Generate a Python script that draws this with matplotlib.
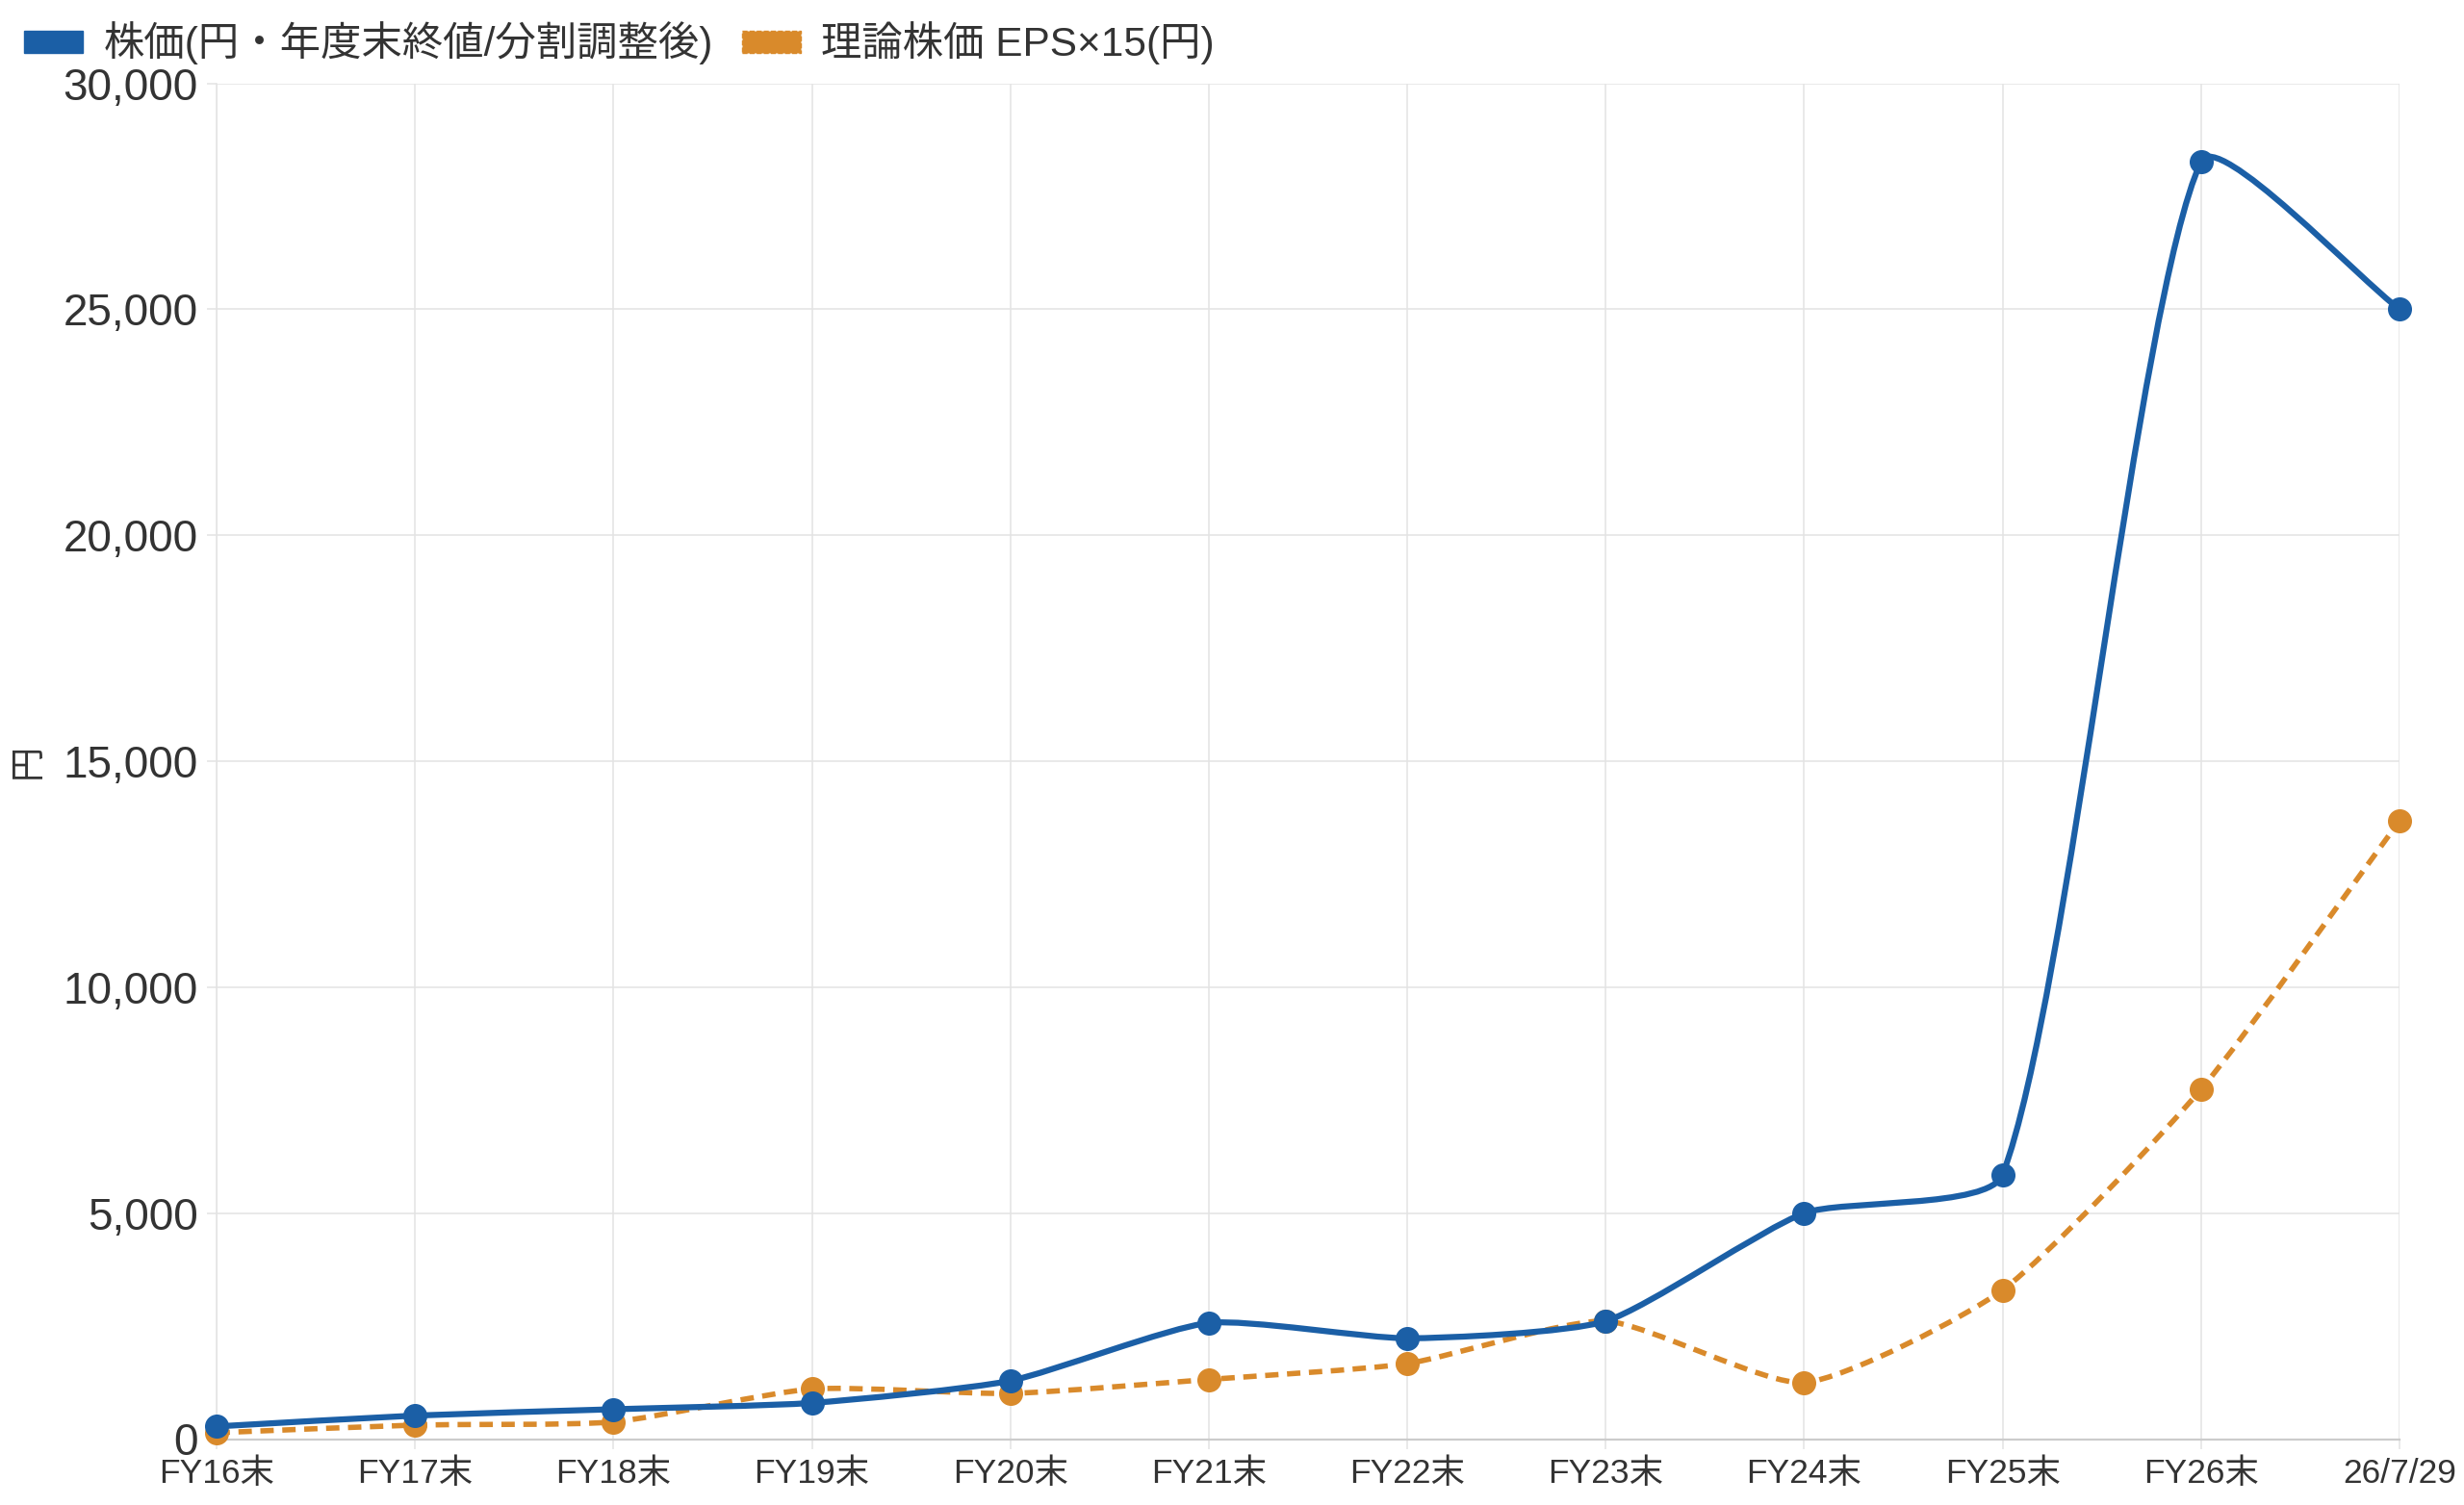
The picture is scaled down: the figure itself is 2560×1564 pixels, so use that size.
import matplotlib
matplotlib.use("Agg")
import matplotlib.pyplot as plt
from matplotlib.path import Path
from matplotlib.patches import PathPatch, Patch
import numpy as np

plt.rcParams['font.family'] = ['Liberation Sans', 'Noto Sans CJK JP', 'DejaVu Sans']

labels = ['FY16末', 'FY17末', 'FY18末', 'FY19末', 'FY20末', 'FY21末',
          'FY22末', 'FY23末', 'FY24末', 'FY25末', 'FY26末', '26/7/29']
price = [280, 520, 660, 800, 1290, 2570, 2230, 2610, 5000, 5850, 28270, 25000]
theory = [140, 310, 380, 1110, 1010, 1320, 1670, 2610, 1250, 3300, 7740, 13680]
yticks = [0, 5000, 10000, 15000, 20000, 25000, 30000]

blue = '#1b5fa6'
orange = '#d98a2b'
grid_c = '#e3e3e3'
text_c = '#333333'


def spline_path(ax, xs, ys, tension=0.2):
    # chart.js style spline, control points worked out in pixels
    pts = ax.transData.transform(np.column_stack([xs, ys]))
    n = len(pts)
    cps = []
    for i in range(n):
        prev = pts[max(i - 1, 0)]
        cur = pts[i]
        nxt = pts[min(i + 1, n - 1)]
        d01 = np.hypot(*(cur - prev))
        d12 = np.hypot(*(nxt - cur))
        tot = d01 + d12
        s01 = d01 / tot if tot else 0
        s12 = d12 / tot if tot else 0
        cps.append((cur - tension * s01 * (nxt - prev), cur + tension * s12 * (nxt - prev)))
    verts = [pts[0]]
    codes = [Path.MOVETO]
    for i in range(1, n):
        verts += [cps[i - 1][1], cps[i][0], pts[i]]
        codes += [Path.CURVE4] * 3
    verts = ax.transData.inverted().transform(np.array(verts))
    return Path(verts, codes)


fig = plt.figure(figsize=(25.6, 15.64), dpi=100)
ax = fig.add_axes([225 / 2560, 1 - 1495.5 / 1564, (2493 - 225) / 2560, (1495.5 - 86.5) / 1564])

x = np.arange(len(labels))
ax.set_xlim(0, len(labels) - 1)
ax.set_ylim(0, 30000)
ax.set_xticks(x)
ax.set_xticklabels(labels, fontsize=25.5, color=text_c)
ax.set_yticks(yticks)
ax.set_yticklabels([f'{v:,}' for v in yticks], fontsize=33, color=text_c)
ax.tick_params(length=7, width=1.1, color=grid_c, pad=7)
ax.grid(True, color=grid_c, linewidth=1.1)
ax.set_axisbelow(True)
for s in ['top', 'right']:
    ax.spines[s].set_visible(False)
ax.spines['left'].set_color(grid_c)
ax.spines['left'].set_linewidth(1.1)
ax.spines['bottom'].set_color('#cccccc')
ax.spines['bottom'].set_linewidth(1.6)

ax.set_ylabel('円', fontsize=26, color=text_c, family=['Noto Sans CJK JP'])
ax.yaxis.set_label_coords((47 - 225) / 2268, 0.5)

# orange (theoretical price) under the blue line
ax.add_patch(PathPatch(spline_path(ax, x, theory), facecolor='none', edgecolor=orange,
                       linewidth=4, linestyle=(0, (2.5, 1.6)), zorder=3, clip_on=False))
ax.plot(x, theory, 'o', color=orange, markersize=17, zorder=4, clip_on=False)

ax.add_patch(PathPatch(spline_path(ax, x, price), facecolor='none', edgecolor=blue,
                       linewidth=4.5, zorder=5, clip_on=False))
ax.plot(x, price, 'o', color=blue, markersize=17, zorder=6, clip_on=False)

handles = [Patch(facecolor=blue, edgecolor=blue),
           Patch(facecolor=orange, edgecolor=orange, linestyle='--')]
fig.legend(handles, ['株価(円・年度末終値/分割調整後)', '理論株価 EPS×15(円)'],
           loc='center left', bbox_to_anchor=(0.0015, 1 - 45 / 1564), ncol=2,
           frameon=False, fontsize=30.5, handlelength=1.45, handleheight=0.45,
           handletextpad=0.5, columnspacing=0.7, borderpad=0, labelcolor=text_c)

fig.savefig('out.png', dpi=100)
